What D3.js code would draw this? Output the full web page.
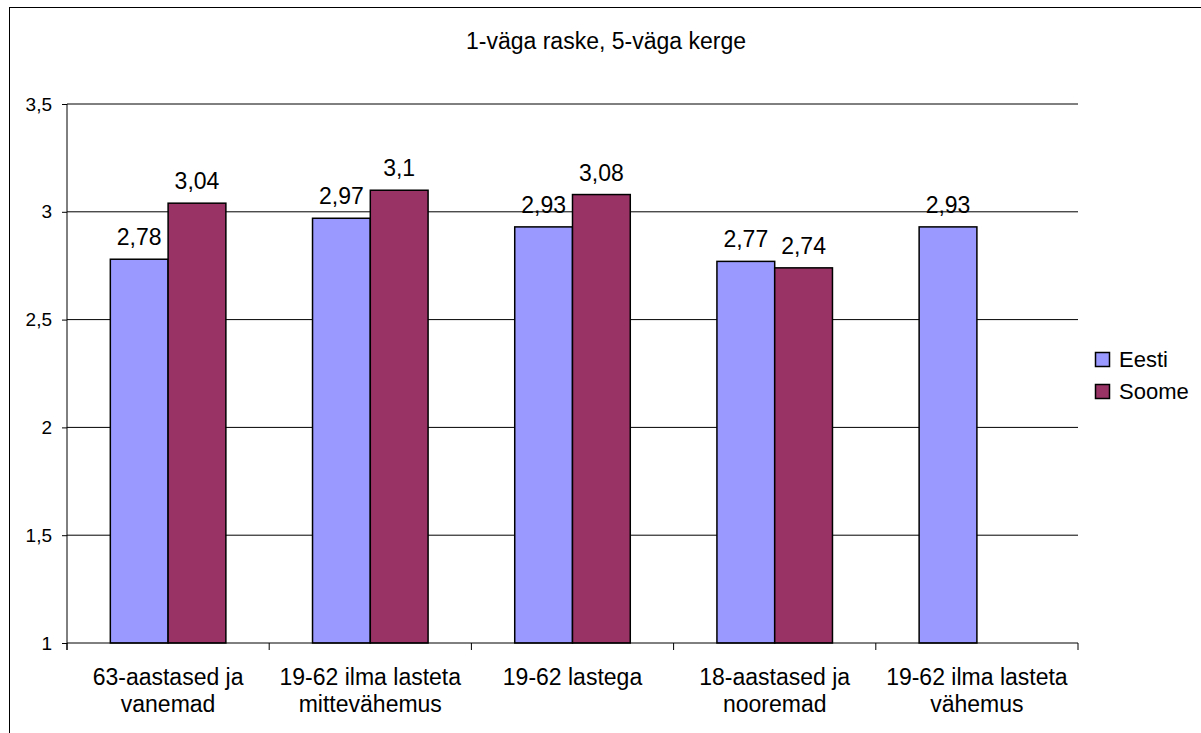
<!DOCTYPE html>
<html>
<head>
<meta charset="utf-8">
<script src="https://cdn.jsdelivr.net/npm/d3@7"></script>
<style>
  html, body { margin: 0; padding: 0; background: #fff; }
  svg { display: block; font-family: "Liberation Sans", Arial, sans-serif; }
</style>
</head>
<body>
<svg id="chart" width="1201" height="733"></svg>
<script>
const title = "1-väga raske, 5-väga kerge";
const categories = [
  "63-aastased ja vanemad",
  "19-62 ilma lasteta mittevähemus",
  "19-62 lastega",
  "18-aastased ja nooremad",
  "19-62 ilma lasteta vähemus"
];
const categoryLines = [
  ["63-aastased ja", "vanemad"],
  ["19-62 ilma lasteta", "mittevähemus"],
  ["19-62 lastega"],
  ["18-aastased ja", "nooremad"],
  ["19-62 ilma lasteta", "vähemus"]
];
const seriesNames = ["Eesti", "Soome"];
const eesti = [2.78, 2.97, 2.93, 2.77, 2.93];
const soome = [3.04, 3.1, 3.08, 2.74, null];
const yTicks = [1, 1.5, 2, 2.5, 3, 3.5];
const colors = ["#9999FF", "#993366"];

const svg = d3.select("#chart");
const fmt = v => String(v).replace(".", ",");

const plot = { left: 67, right: 1078, top: 104, bottom: 643 };

// outer border
svg.append("rect")
  .attr("x", 9.5).attr("y", 7.5)
  .attr("width", 1300).attr("height", 900)
  .attr("fill", "none").attr("stroke", "#000").attr("stroke-width", 1);

const x = d3.scaleBand().domain(categories).range([plot.left, plot.right]).paddingInner(0).paddingOuter(0);
const xs = d3.scaleBand().domain(seriesNames).range([0, x.bandwidth()]).paddingInner(0).paddingOuter(0.75);
const y = d3.scaleLinear().domain([1, 3.5]).range([plot.bottom, plot.top]);

// gridlines
svg.append("g").selectAll("line").data(yTicks.filter(t => t > 1)).join("line")
  .attr("x1", plot.left).attr("x2", plot.right)
  .attr("y1", d => y(d)).attr("y2", d => y(d))
  .attr("stroke", "#000").attr("stroke-width", 1);

// y axis
const yAxis = svg.append("g").attr("transform", `translate(${plot.left},0)`)
  .call(d3.axisLeft(y).tickValues(yTicks).tickSize(5).tickPadding(10).tickFormat(fmt));
yAxis.select(".domain").attr("d", `M0,${plot.top}V${plot.bottom + 7}`).attr("stroke", "#000");
yAxis.selectAll(".tick line").attr("stroke", "#000");
yAxis.selectAll("text").attr("font-size", "19px").attr("fill", "#000")
  .attr("font-family", "Liberation Sans, Arial, sans-serif");

// bars
const seriesData = [eesti, soome];
const barG = svg.append("g");
seriesData.forEach((vals, si) => {
  const data = categories.map((c, i) => ({ c, v: vals[i] })).filter(d => d.v != null);
  barG.selectAll(null).data(data).join("rect")
    .attr("x", d => x(d.c) + xs(seriesNames[si]))
    .attr("y", d => y(d.v))
    .attr("width", xs.bandwidth())
    .attr("height", d => y(1) - y(d.v))
    .attr("fill", colors[si])
    .attr("stroke", "#000").attr("stroke-width", 1.5);
  barG.selectAll(null).data(data).join("text")
    .attr("x", d => x(d.c) + xs(seriesNames[si]) + xs.bandwidth() / 2)
    .attr("y", d => y(d.v) - 14)
    .attr("text-anchor", "middle")
    .attr("font-size", "23px")
    .text(d => fmt(d.v));
});

// x axis
const xAxisG = svg.append("g");
xAxisG.append("line")
  .attr("x1", plot.left).attr("x2", plot.right)
  .attr("y1", plot.bottom).attr("y2", plot.bottom)
  .attr("stroke", "#000");
const boundaries = categories.map(c => x(c)).concat([plot.right]);
xAxisG.selectAll(null).data(boundaries).join("line")
  .attr("x1", d => d).attr("x2", d => d)
  .attr("y1", plot.bottom).attr("y2", plot.bottom + 7)
  .attr("stroke", "#000");
categories.forEach((c, i) => {
  const t = xAxisG.append("text")
    .attr("x", x(c) + x.bandwidth() / 2)
    .attr("y", 685)
    .attr("text-anchor", "middle")
    .attr("font-size", "23px");
  categoryLines[i].forEach((ln, j) => {
    t.append("tspan").attr("x", x(c) + x.bandwidth() / 2).attr("dy", j === 0 ? 0 : 27).text(ln);
  });
});

// title
svg.append("text").attr("x", 606).attr("y", 49).attr("text-anchor", "middle")
  .attr("font-size", "23px").text(title);

// legend
const legend = svg.append("g");
seriesNames.forEach((s, i) => {
  legend.append("rect")
    .attr("x", 1095.5).attr("y", 352.5 + i * 32)
    .attr("width", 14).attr("height", 14)
    .attr("fill", colors[i]).attr("stroke", "#000").attr("stroke-width", 1.5);
  legend.append("text")
    .attr("x", 1119).attr("y", 367 + i * 32)
    .attr("font-size", "22px").text(s);
});
</script>
</body>
</html>
